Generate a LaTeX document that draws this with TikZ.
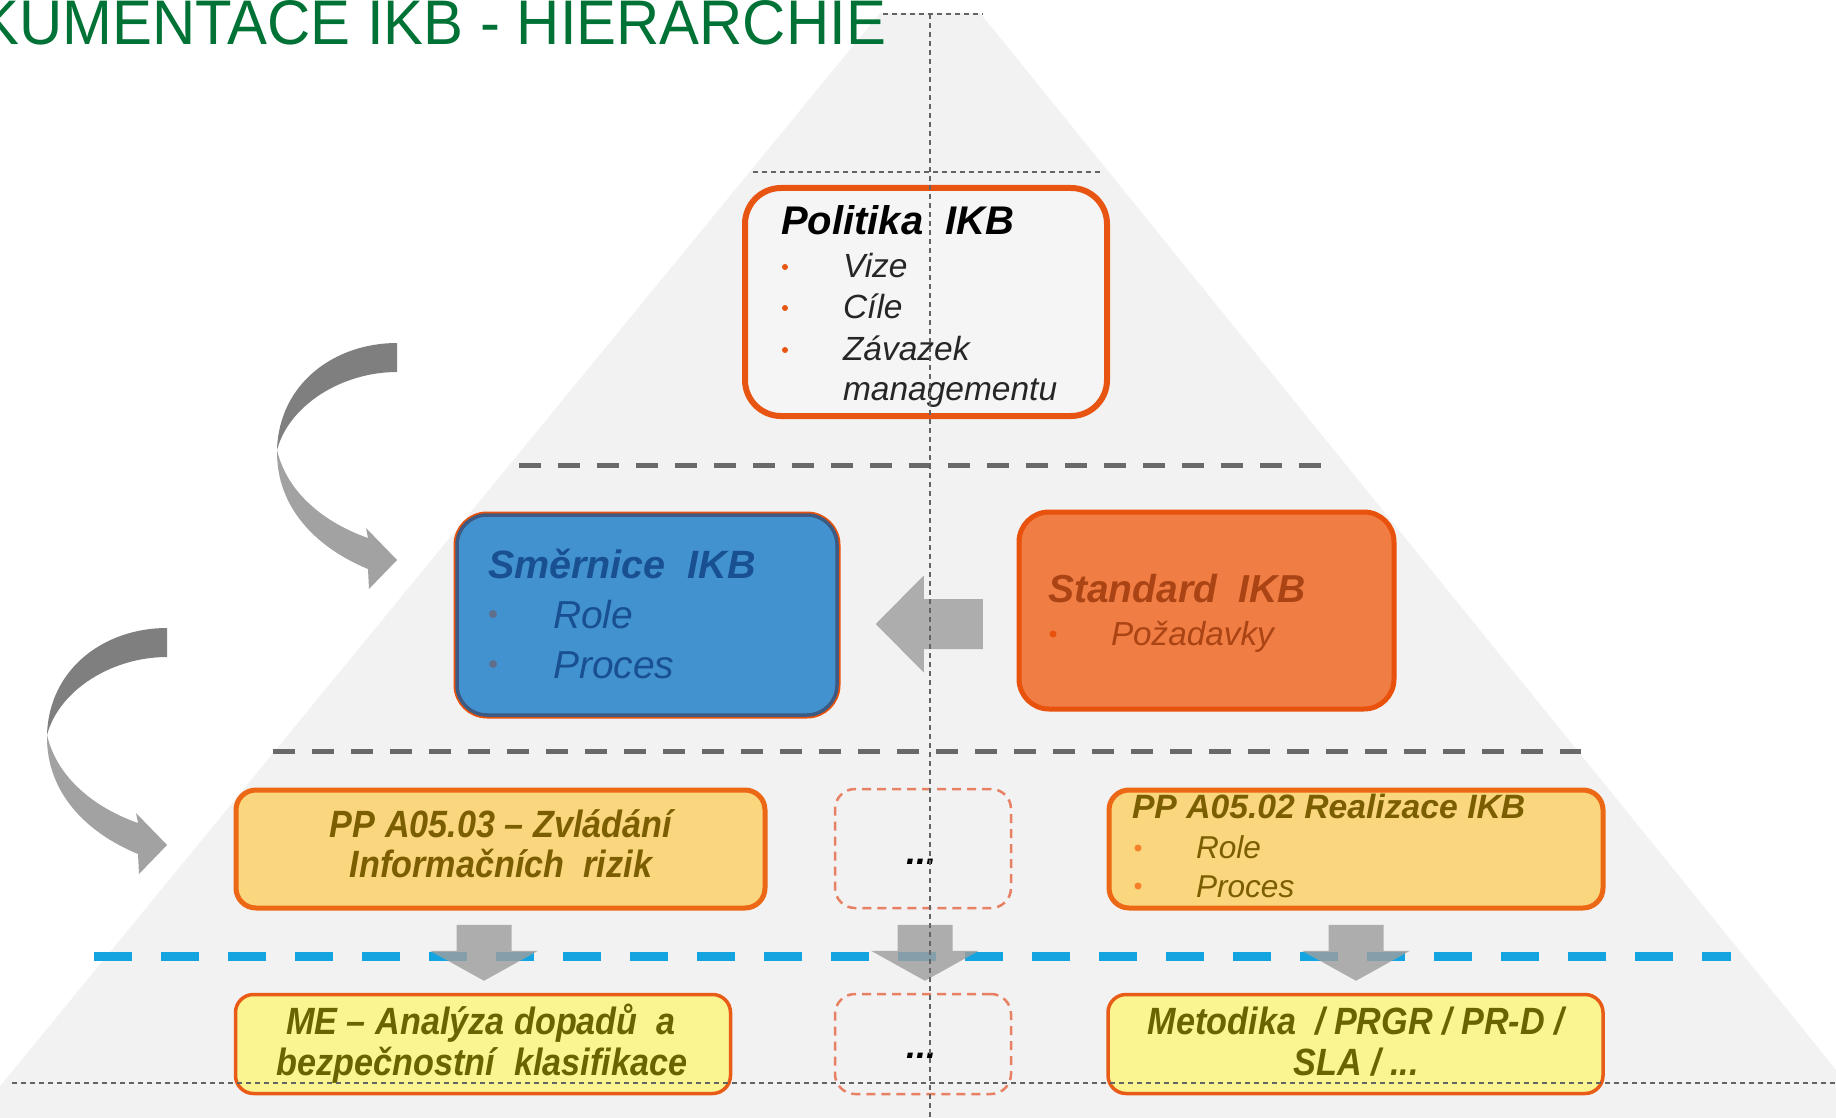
\documentclass[tikz,border=0pt]{standalone}
\usepackage{fontspec}
\setmainfont{Liberation Sans}
\newfontfamily\narrowsf[FakeStretch=0.9]{Liberation Sans}
\newfontfamily\headsf[FakeStretch=0.95]{Liberation Sans}
\usetikzlibrary{calc}

\definecolor{titlegreen}{RGB}{0,114,54}
\definecolor{pyrfill}{RGB}{242,242,242}
\definecolor{polfill}{RGB}{245,245,245}
\definecolor{dotgray}{RGB}{100,100,100}
\definecolor{sepgray}{RGB}{105,105,105}
\definecolor{lineblue}{RGB}{20,165,225}
\definecolor{polborder}{RGB}{232,84,18}
\definecolor{poltext}{RGB}{38,38,38}
\definecolor{smefill}{RGB}{67,146,208}
\definecolor{smeedge}{RGB}{60,90,130}
\definecolor{smetext}{RGB}{25,80,145}
\definecolor{smebullet}{RGB}{95,112,140}
\definecolor{stdfill}{RGB}{240,125,68}
\definecolor{stdedge}{RGB}{232,82,12}
\definecolor{stdtext}{RGB}{170,68,20}
\definecolor{ppfill}{RGB}{250,214,126}
\definecolor{ppedge}{RGB}{236,104,20}
\definecolor{pptext}{RGB}{122,94,0}
\definecolor{ppbullet}{RGB}{245,130,40}
\definecolor{lowfill}{RGB}{250,244,145}
\definecolor{lowedge}{RGB}{232,92,24}
\definecolor{lowtext}{RGB}{105,100,0}
\definecolor{arrowgray}{RGB}{158,158,158}
\definecolor{curvedark}{RGB}{127,127,127}
\definecolor{curvelight}{RGB}{162,162,162}
\definecolor{dashred}{RGB}{232,128,100}

\tikzset{
  lbl/.style={inner sep=0pt, outer sep=0pt},
  tbi/.style={lbl, font={\fontsize{#1pt}{#1pt}\selectfont\bfseries\itshape}},
  ti/.style={lbl, font={\fontsize{#1pt}{#1pt}\selectfont\itshape}},
  nbi/.style={lbl, font={\narrowsf\fontsize{#1pt}{#1pt}\selectfont\bfseries\itshape}},
  polbox/.style={draw=polborder, fill=polfill, line width=6pt, rounded corners=36pt, inner sep=0pt},
  smebox/.style={fill=smefill, draw=smeedge, line width=3.5pt, rounded corners=30pt, inner sep=0pt,
                 preaction={draw=stdedge, line width=7pt}},
  stdbox/.style={fill=stdfill, draw=stdedge, line width=5pt, rounded corners=30pt, inner sep=0pt},
  ppbox/.style={fill=ppfill, draw=ppedge, line width=5pt, rounded corners=20pt, inner sep=0pt},
  lowbox/.style={fill=lowfill, draw=lowedge, line width=3.5pt, rounded corners=18pt, inner sep=0pt},
  emptybox/.style={draw=dashred, line width=2.5pt, dash pattern=on 9pt off 6pt, rounded corners=20pt, inner sep=0pt},
  sepline/.style={sepgray, line width=5pt, dash pattern=on 22pt off 17pt},
  blueline/.style={lineblue, line width=9pt, dash pattern=on 38pt off 29pt},
  dotline/.style={dotgray, line width=2.8pt, dash pattern=on 5pt off 4pt},
  blockarrow/.style={fill=arrowgray, fill opacity=0.82},
  curvearrow/.pic={
    \fill[curvedark] (0,0) -- (0,29) .. controls (-55,29) and (-108,62) .. (-120,107)
      .. controls (-118,40) and (-62,0) .. (0,0) -- cycle;
    \fill[curvelight] (-120,107) .. controls (-121,165) and (-80,205) .. (-29,226)
      -- (-28,246) -- (0,217) -- (-31,185) -- (-29,195)
      .. controls (-72,180) and (-110,150) .. (-120,107) -- cycle;
  }
}

\begin{document}
\begin{tikzpicture}[x=1pt,y=-1pt]
\useasboundingbox (0,0) rectangle (1836,1118);
\fill[white] (0,0) rectangle (1836,1118);

% pyramid background
\fill[pyrfill] (880,13) -- (980,13) -- (1875,1118) -- (-26,1118) -- cycle;

% level separators
\draw[sepline] (519,465) -- (1335,465);
\draw[sepline] (273,751) -- (1581,751);
\draw[blueline] (94,956) -- (1731,956);

% level 1: policy
\node[polbox, minimum width=362pt, minimum height=228pt] (pol) at (926,302) {};
\node[tbi=40, anchor=base west, text=black] (polT) at (781,234) {Politika\ \ IKB};
\node[ti=33.5, anchor=base west, text=poltext] (pol1) at (843,277) {Vize};
\node[ti=33.5, anchor=base west, text=poltext] (pol2) at (843,318) {Cíle};
\node[ti=33.5, anchor=base west, text=poltext] (pol3) at (843,360) {Závazek};
\node[ti=33.5, anchor=base west, text=poltext] (pol4) at (843,400) {managementu};
\fill[polborder] (785,267) circle (3pt);
\fill[polborder] (785,308) circle (3pt);
\fill[polborder] (785,350) circle (3pt);

% level 2: directive and standard
\node[smebox, minimum width=380pt, minimum height=200pt] (sme) at (647,615) {};
\node[tbi=39.5, anchor=base west, text=smetext] (smeT) at (488,578) {Směrnice\ \ IKB};
\node[ti=39, anchor=base west, text=smetext] (sme1) at (553,628) {Role};
\node[ti=39, anchor=base west, text=smetext] (sme2) at (553,678) {Proces};
\fill[smebullet] (493,614) circle (4pt);
\fill[smebullet] (493,664) circle (4pt);

\node[stdbox, minimum width=375pt, minimum height=197pt] (std) at (1206.5,610.5) {};
\node[tbi=39, anchor=base west, text=stdtext] (stdT) at (1048,602) {Standard\ \ IKB};
\node[ti=33.3, anchor=base west, text=stdtext] (std1) at (1111,645) {Požadavky};
\fill[stdedge] (1053,634) circle (3.5pt);

% level 3: internal regulations
\node[ppbox, minimum width=529pt, minimum height=118pt] (ppa) at (500.5,849) {};
\node[nbi=38, anchor=base, text=pptext] (ppa1) at (501,837) {PP A05.03 – Zvládání};
\node[nbi=38, anchor=base, text=pptext] (ppa2) at (501,877) {Informačních\ \ rizik};

\node[emptybox, minimum width=176pt, minimum height=119pt] (dsh1) at (923,848.5) {};
\node[tbi=36, anchor=base, text=black] (dots1) at (921,864) {...};

\node[ppbox, minimum width=494pt, minimum height=118pt] (ppb) at (1356,849) {};
\node[tbi=33.7, anchor=base west, text=pptext] (ppbT) at (1132,818.5) {PP A05.02 Realizace IKB};
\node[ti=31.6, anchor=base west, text=pptext] (ppb1) at (1196,858) {Role};
\node[ti=31.6, anchor=base west, text=pptext] (ppb2) at (1196,897) {Proces};
\fill[ppbullet] (1138,848) circle (3.5pt);
\fill[ppbullet] (1138,886) circle (3.5pt);

% level 4: methodologies
\node[lowbox, minimum width=495pt, minimum height=99pt] (me) at (483,1044) {};
\node[nbi=38, anchor=base, text=lowtext] (me1) at (481,1034) {ME – Analýza dopadů\ \ a};
\node[nbi=38, anchor=base, text=lowtext] (me2) at (482,1075) {bezpečnostní\ \ klasifikace};

\node[emptybox, minimum width=176pt, minimum height=100pt] (dsh2) at (923,1044) {};
\node[tbi=36, anchor=base, text=black] (dots2) at (921,1058) {...};

\node[lowbox, minimum width=495pt, minimum height=99pt] (met) at (1355.5,1044) {};
\node[nbi=38, anchor=base, text=lowtext] (met1) at (1356,1034) {Metodika\ \ / PRGR / PR-D /};
\node[nbi=38, anchor=base, text=lowtext] (met2) at (1356,1075) {SLA / ...};

% curved arrows on the left
\pic at (397,343) {curvearrow};
\pic at (167,628) {curvearrow};

% block arrows between levels
\coordinate (lt) at ($(sme.east)+(37,9)$);
\fill[blockarrow] (lt) -- ++(48,-48.5) -- ++(0,23.5) -- ++(59,0) -- ++(0,50)
  -- ++(-59,0) -- ++(0,23.5) -- cycle;
\coordinate (dt1) at ($(me.north)+(1,-12)$);
\coordinate (dt2) at ($(dsh2.north)+(2,-12)$);
\coordinate (dt3) at ($(met.north)+(0.5,-12)$);
\foreach \t in {dt1,dt2,dt3}{
  \fill[blockarrow] (\t) -- ++(-54,-30) -- ++(26.5,0) -- ++(0,-26) -- ++(55,0)
    -- ++(0,26) -- ++(26.5,0) -- cycle;
}

% dotted guide lines
\draw[dotline] (930,14) -- (930,1118);
\draw[dotline] (883,14) -- (983,14);
\draw[dotline] (753,172) -- (1101,172);
\draw[dotline] (12,1083) -- (1836,1083);

% heading
\node[lbl, anchor=base east, text=titlegreen, font={\headsf\fontsize{63pt}{64pt}\selectfont}] (title) at (886,45) {KUMENTACE IKB - HIERARCHIE};
\end{tikzpicture}
\end{document}
